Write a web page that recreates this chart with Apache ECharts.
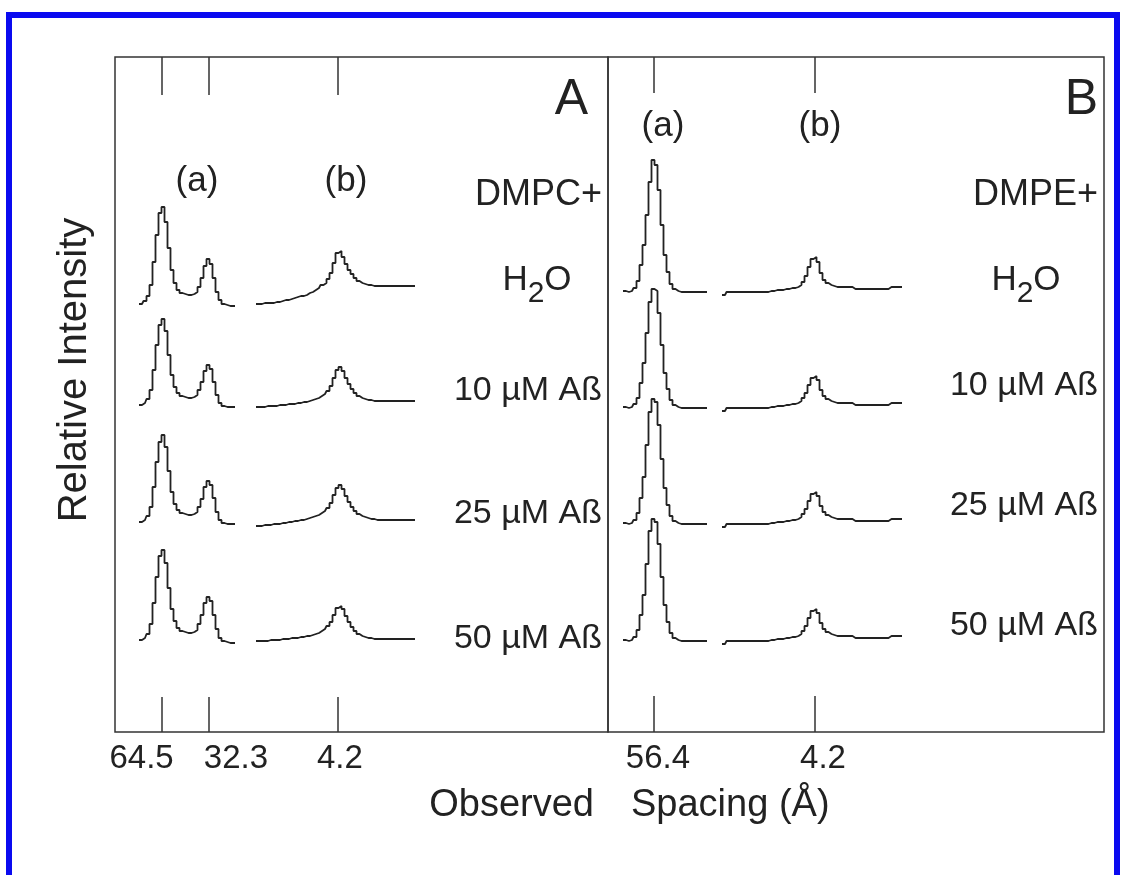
<!DOCTYPE html>
<html>
<head>
<meta charset="utf-8">
<script src="https://cdn.jsdelivr.net/npm/echarts@6/dist/echarts.min.js"></script>
<style>
  html, body { margin: 0; padding: 0; background: #fff; }
  #chart { width: 1126px; height: 875px; }
  #edge { position: absolute; left: 6px; top: 12px; width: 1114px; height: 890px;
          border: 6px solid #0a0af0; box-sizing: border-box; pointer-events: none; }
</style>
</head>
<body>
<div id="chart"></div>
<div id="edge"></div>
<script>
  // detector channels (1 channel = one step of the recorded profile)
  var chanAa = [8,9,10,11,12,13,14,15,16,17,18,19,20,21,22,23,24,25,26,27,28,29,30,31,32,33,34,35,36,37,38,39,40];
  var chanAb = [47,48,49,50,51,52,53,54,55,56,57,58,59,60,61,62,63,64,65,66,67,68,69,70,71,72,73,74,75,76,77,78,79,80,81,82,83,84,85,86,87,88,89,90,91,92,93,94,95,96,97,98,99,100];
  var chanBa = [5,6,7,8,9,10,11,12,13,14,15,16,17,18,19,20,21,22,23,24,25,26,27,28,29,30,31,32,33];
  var chanBb = [38,39,40,41,42,43,44,45,46,47,48,49,50,51,52,53,54,55,56,57,58,59,60,61,62,63,64,65,66,67,68,69,70,71,72,73,74,75,76,77,78,79,80,81,82,83,84,85,86,87,88,89,90,91,92,93,94,95,96,97,98];

  var samples = ['H2O', '10 µM Aß', '25 µM Aß', '50 µM Aß'];

  // panel A (DMPC), small-angle region (a): 64.5 and 32.3 Å reflections
  var dmpcSmall = [
    [10,10,13,18,29,52,79,101,107,92,66,44,31,24,21,20,19,19,20,22,27,36,48,55,50,36,22,14,10,9,8,8,8],
    [10,10,12,16,25,45,70,90,96,84,60,40,28,22,19,18,17,17,18,20,25,33,44,50,46,33,20,12,9,8,8,8,8],
    [10,10,12,16,25,45,70,90,97,85,61,40,28,22,19,18,17,17,18,20,25,33,45,51,47,34,20,12,9,8,8,8,8],
    [10,10,12,16,26,47,73,94,100,87,62,41,29,22,19,18,17,17,18,20,26,35,47,53,49,35,21,12,9,8,7,7,7]
  ];
  // panel A, wide-angle region (b): 4.2 Å reflection
  var dmpcWide = [
    [10,10,10,11,11,11,11,12,12,13,14,14,15,16,17,18,18,19,21,22,24,26,29,31,35,41,51,61,63,57,50,44,40,36,33,31,30,29,29,28,28,28,28,28,28,28,28,28,28,28,28,28,28,28],
    [8,8,8,8,9,9,9,9,10,10,10,11,11,11,12,12,13,13,14,15,16,17,19,21,24,29,37,45,48,44,37,31,26,22,19,17,16,15,15,14,14,14,14,14,14,14,14,14,14,14,14,14,14,14],
    [6,6,6,7,7,7,8,8,8,9,9,10,10,11,11,12,12,13,14,15,16,17,19,21,24,29,37,44,47,43,36,30,25,21,18,16,15,14,13,13,12,12,12,12,12,12,12,12,12,12,12,12,12,12],
    [9,9,9,9,9,10,10,10,10,11,11,11,12,12,12,13,13,14,14,15,16,17,19,21,24,28,35,42,44,41,34,28,23,19,16,14,13,12,12,11,11,11,11,11,11,11,11,11,11,11,11,11,11,11]
  ];
  // panel B (DMPE), region (a): 56.4 Å
  var dmpeSmall = [
    [10,10,9,10,13,20,36,56,86,119,141,136,111,76,46,29,17,12,10,9,9,9,9,9,9,9,9,9,9],
    [10,10,9,10,13,19,34,54,84,115,128,126,104,72,44,28,17,12,10,9,9,9,9,9,9,9,9,9,9],
    [10,10,9,10,13,20,35,56,88,121,134,131,108,74,45,28,17,12,10,9,9,9,9,9,9,9,9,9,9],
    [10,10,9,10,13,20,35,55,86,119,131,128,106,73,45,28,17,12,10,9,9,9,9,9,9,9,9,9,9]
  ];
  // panel B, region (b): 4.2 Å
  var dmpeWide = [
    [6,6,9,9,9,9,9,9,9,9,9,9,9,9,9,9,10,10,11,11,11,12,12,13,13,14,16,19,25,34,42,44,39,28,21,18,16,15,14,14,14,14,14,14,12,12,12,12,12,12,12,12,12,12,12,12,14,14,14,14,14],
    [6,6,9,9,9,9,9,9,9,9,9,9,9,9,9,9,10,10,11,11,11,12,12,13,13,14,16,19,24,32,39,41,37,27,21,18,16,15,14,14,14,14,14,14,12,12,12,12,12,12,12,12,12,12,12,12,14,14,14,14,14],
    [6,6,9,9,9,9,9,9,9,9,9,9,9,9,9,9,10,10,11,11,11,12,12,13,13,14,16,19,24,32,39,41,37,27,21,18,16,15,14,14,14,14,14,14,12,12,12,12,12,12,12,12,12,12,12,12,14,14,14,14,14],
    [6,6,9,9,9,9,9,9,9,9,9,9,9,9,9,9,10,10,11,11,11,12,12,13,13,14,16,19,24,32,39,41,37,27,21,18,16,15,14,14,14,14,14,14,12,12,12,12,12,12,12,12,12,12,12,12,14,14,14,14,14]
  ];

  // reflection positions (channel) and their d-spacings
  var peakChanA = [15.7, 31.3, 74.3];
  var peakLabelA = ['64.5', '32.3', '4.2'];
  var peakChanB = [15.3, 69];
  var peakLabelB = ['56.4', '4.2'];

  var FONT = 'Liberation Sans, Arial, Helvetica, sans-serif';
  var INK = '#222';

  var chart = echarts.init(document.getElementById('chart'));

  var rowTopA = [154, 255, 372, 490];
  var rowTopB = [141, 257, 373, 490];
  var maxA = 164.33, maxB = 165.33;

  function pairs(ch, vals) {
    return ch.map(function (c, i) { return [c, vals[i]]; });
  }
  function labelFor(pos, lab) {
    return function (v) {
      var best = 0;
      for (var i = 1; i < pos.length; i++) {
        if (Math.abs(pos[i] - v) < Math.abs(pos[best] - v)) best = i;
      }
      return '{t' + best + '|' + lab[best] + '}';
    };
  }

  var grids = [
    { left: 115, top: 57, width: 493, height: 675, show: true, borderColor: '#333', borderWidth: 1.5 },
    { left: 608, top: 57, width: 496, height: 675, show: true, borderColor: '#333', borderWidth: 1.5 }
  ];
  var xAxes = [
    { gridIndex: 0, type: 'value', min: 0, max: maxA, position: 'bottom',
      axisLine: { show: false }, splitLine: { show: false },
      axisTick: { show: true, inside: true, length: 35, customValues: peakChanA, lineStyle: { color: '#333', width: 1.5 } },
      axisLabel: { show: true, customValues: peakChanA, margin: 10, formatter: labelFor(peakChanA, peakLabelA),
        fontSize: 33, fontFamily: FONT, color: INK,
        rich: {
          t0: { fontSize: 33, fontFamily: FONT, color: INK, padding: [0, 41, 0, 0] },
          t1: { fontSize: 33, fontFamily: FONT, color: INK, padding: [0, 0, 0, 54] },
          t2: { fontSize: 33, fontFamily: FONT, color: INK, padding: [0, 0, 0, 4] }
        } } },
    { gridIndex: 0, type: 'value', min: 0, max: maxA, position: 'top',
      axisLine: { show: false }, splitLine: { show: false }, axisLabel: { show: false },
      axisTick: { show: true, inside: true, length: 38, customValues: peakChanA, lineStyle: { color: '#333', width: 1.5 } } },
    { gridIndex: 1, type: 'value', min: 0, max: maxB, position: 'bottom',
      axisLine: { show: false }, splitLine: { show: false },
      axisTick: { show: true, inside: true, length: 36, customValues: peakChanB, lineStyle: { color: '#333', width: 1.5 } },
      axisLabel: { show: true, customValues: peakChanB, margin: 10, formatter: labelFor(peakChanB, peakLabelB),
        fontSize: 33, fontFamily: FONT, color: INK,
        rich: {
          t0: { fontSize: 33, fontFamily: FONT, color: INK, padding: [0, 0, 0, 8] },
          t1: { fontSize: 33, fontFamily: FONT, color: INK, padding: [0, 0, 0, 16] }
        } } },
    { gridIndex: 1, type: 'value', min: 0, max: maxB, position: 'top',
      axisLine: { show: false }, splitLine: { show: false }, axisLabel: { show: false },
      axisTick: { show: true, inside: true, length: 36, customValues: peakChanB, lineStyle: { color: '#333', width: 1.5 } } }
  ];
  var yAxes = [
    { gridIndex: 0, type: 'value', show: false, min: 0, max: 1 },
    { gridIndex: 1, type: 'value', show: false, min: 0, max: 1 }
  ];
  var series = [];

  function addRow(left, width, top, max, profiles) {
    var g = grids.length, xi = xAxes.length, yi = yAxes.length;
    grids.push({ left: left, top: top, width: width, height: 160 });
    xAxes.push({ gridIndex: g, type: 'value', min: 0, max: max, show: false });
    yAxes.push({ gridIndex: g, type: 'value', min: 0, max: 160, show: false });
    profiles.forEach(function (p) {
      series.push({
        type: 'line', xAxisIndex: xi, yAxisIndex: yi, step: 'middle', symbol: 'none',
        silent: true, lineStyle: { color: INK, width: 1.8 }, data: pairs(p[0], p[1])
      });
    });
  }
  for (var r = 0; r < samples.length; r++) {
    addRow(115, 493, rowTopA[r], maxA, [[chanAa, dmpcSmall[r]], [chanAb, dmpcWide[r]]]);
  }
  for (var r2 = 0; r2 < samples.length; r2++) {
    addRow(608, 496, rowTopB[r2], maxB, [[chanBa, dmpeSmall[r2]], [chanBb, dmpeWide[r2]]]);
  }

  function txt(x, y, s, size, align, extra) {
    var o = { type: 'text', x: x, y: y, silent: true,
      style: { text: s, fontSize: size, fontFamily: FONT, fill: INK, align: align, verticalAlign: 'middle' } };
    if (extra) Object.assign(o, extra);
    return o;
  }
  function water(x, y) {
    return { type: 'text', x: x, y: y, silent: true,
      style: { text: '{n|H}{s|2}{n|O}', align: 'center', verticalAlign: 'top', fill: INK,
        rich: {
          n: { fontSize: 35, fontFamily: FONT, fill: INK, verticalAlign: 'top', lineHeight: 35 },
          s: { fontSize: 30, fontFamily: FONT, fill: INK, verticalAlign: 'top', lineHeight: 30, padding: [16, 0, 0, 0] }
        } } };
  }

  var rowLabelYA = [0, 391, 514, 639];
  var rowLabelYB = [0, 386, 506, 626];
  var graphics = [
    txt(75, 370, 'Relative Intensity', 40, 'center', { rotation: Math.PI / 2 }),
    txt(594, 806, 'Observed', 38, 'right'),
    txt(631, 806, 'Spacing (Å)', 38, 'left'),
    txt(588, 100, 'A', 50, 'right'),
    txt(1098, 100, 'B', 50, 'right'),
    txt(197, 181, '(a)', 35, 'center'),
    txt(346, 181, '(b)', 35, 'center'),
    txt(663, 126, '(a)', 35, 'center'),
    txt(820, 126, '(b)', 35, 'center'),
    txt(602, 195, 'DMPC+', 36, 'right'),
    txt(1098, 195, 'DMPE+', 36, 'right'),
    water(537, 263),
    water(1026, 263)
  ];
  for (var k = 1; k < samples.length; k++) {
    graphics.push(txt(602, rowLabelYA[k], samples[k], 34, 'right'));
    graphics.push(txt(1098, rowLabelYB[k], samples[k], 34, 'right'));
  }

  var option = {
    animation: false,
    backgroundColor: '#fff',
    grid: grids,
    xAxis: xAxes,
    yAxis: yAxes,
    series: series,
    graphic: graphics
  };
  option && chart.setOption(option);
</script>
</body>
</html>
